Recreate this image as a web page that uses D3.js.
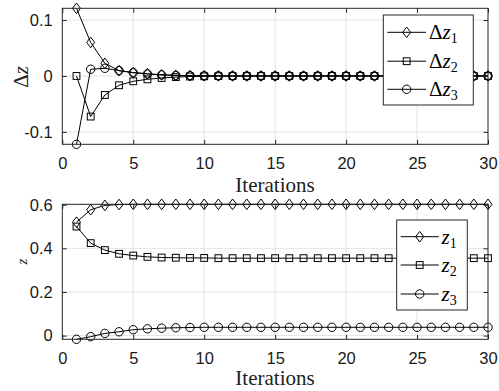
<!DOCTYPE html>
<html>
<head>
<meta charset="utf-8">
<script src="https://cdn.jsdelivr.net/npm/d3@7"></script>
<style>
  body { margin: 0; background: #fff; }
  svg { display: block; }
</style>
</head>
<body>
<div id="content"></div>
<script>
const iterations = d3.range(1, 31);

// top plot: change per iteration
const dz1 = [0.121, 0.060, 0.0227, 0.0095, 0.006, 0.004, 0.002, 0.001, 0.0005, 0.0003,
             0.0002, 0.0001, 0, 0, 0, 0, 0, 0, 0, 0, 0, 0, 0, 0, 0, 0, 0, 0, 0, 0];
const dz2 = [0, -0.0726, -0.034, -0.0166, -0.0095, -0.006, -0.0036, -0.002, -0.001, -0.0006,
             -0.0003, -0.0002, -0.0001, 0, 0, 0, 0, 0, 0, 0, 0, 0, 0, 0, 0, 0, 0, 0, 0, 0];
const dz3 = [-0.1222, 0.012, 0.0137, 0.0095, 0.006, 0.0036, 0.002, 0.001, 0.0005, 0.0003,
             0.0002, 0.0001, 0, 0, 0, 0, 0, 0, 0, 0, 0, 0, 0, 0, 0, 0, 0, 0, 0, 0];

// bottom plot: values
const z1 = [0.520, 0.577, 0.597, 0.601, 0.602, 0.602, 0.602, 0.602, 0.602, 0.602,
            0.602, 0.602, 0.602, 0.602, 0.602, 0.602, 0.602, 0.602, 0.602, 0.602,
            0.602, 0.602, 0.602, 0.602, 0.602, 0.602, 0.602, 0.602, 0.602, 0.602];
const z2 = [0.500, 0.424, 0.392, 0.375, 0.367, 0.361, 0.358, 0.357, 0.356, 0.356,
            0.355, 0.355, 0.355, 0.355, 0.355, 0.355, 0.355, 0.355, 0.355, 0.355,
            0.355, 0.355, 0.355, 0.355, 0.355, 0.355, 0.355, 0.355, 0.355, 0.355];
const z3 = [-0.017, -0.005, 0.010, 0.0175, 0.027, 0.031, 0.034, 0.036, 0.037, 0.038,
            0.038, 0.038, 0.038, 0.038, 0.038, 0.038, 0.038, 0.038, 0.038, 0.038,
            0.038, 0.038, 0.038, 0.038, 0.038, 0.038, 0.038, 0.038, 0.038, 0.038];

const x_ticks = [0, 5, 10, 15, 20, 25, 30];
const top_y_ticks = [-0.1, 0, 0.1];
const bottom_y_ticks = [0, 0.2, 0.4, 0.6];
const markers = ["diamond", "square", "circle"];
const subs = ["1", "2", "3"];

const axis_color = "#262626";
const grid_color = "#e3e3e3";
const tick_len = 4.5;

var svg = d3
    .select("#content")
    .append("svg")
    .attr("width", 499)
    .attr("height", 391);

function draw_marker(g, type, cx, cy) {
    if (type === "diamond") {
        g.append("path")
            .attr("d", `M${cx},${cy - 5.3}L${cx + 4},${cy}L${cx},${cy + 5.3}L${cx - 4},${cy}Z`);
    } else if (type === "square") {
        g.append("rect")
            .attr("x", cx - 3.4).attr("y", cy - 3.4)
            .attr("width", 6.8).attr("height", 6.8);
    } else {
        g.append("circle").attr("cx", cx).attr("cy", cy).attr("r", 4.2);
    }
}

function draw_panel(cfg) {
    const x = d3.scaleLinear().domain([0, 30]).range([62.3, 488]);
    const all = [].concat(...cfg.series);
    const y = d3.scaleLinear().domain(d3.extent(all)).range([cfg.bottom, cfg.top]);
    const g = svg.append("g");

    // grid
    g.append("g").selectAll("line").data(x_ticks.slice(1, -1)).join("line")
        .attr("x1", d => x(d)).attr("x2", d => x(d))
        .attr("y1", cfg.top).attr("y2", cfg.bottom)
        .attr("stroke", grid_color);
    g.append("g").selectAll("line").data(cfg.y_ticks).join("line")
        .attr("x1", x(0)).attr("x2", x(30))
        .attr("y1", d => y(d)).attr("y2", d => y(d))
        .attr("stroke", grid_color);

    // series
    const line = d3.line().x((d, i) => x(iterations[i])).y(d => y(d));
    cfg.series.forEach((s, k) => {
        g.append("path")
            .attr("d", line(s))
            .attr("fill", "none")
            .attr("stroke", "#000")
            .attr("stroke-width", 1);
        const mg = g.append("g").attr("fill", "none").attr("stroke", "#000").attr("stroke-width", 1);
        s.forEach((v, i) => draw_marker(mg, markers[k], x(iterations[i]), y(v)));
    });

    // axes
    const fmt = d => (d === 0 ? "0" : String(d));
    g.append("g").attr("transform", `translate(0,${cfg.bottom})`)
        .call(d3.axisBottom(x).tickValues(x_ticks).tickSizeInner(-tick_len).tickSizeOuter(0)
              .tickPadding(12.5).tickFormat(fmt));
    g.append("g").attr("transform", `translate(0,${cfg.top})`)
        .call(d3.axisTop(x).tickValues(x_ticks).tickSizeInner(-tick_len).tickSizeOuter(0).tickFormat(""));
    g.append("g").attr("transform", `translate(${x(0)},0)`)
        .call(d3.axisLeft(y).tickValues(cfg.y_ticks).tickSizeInner(-tick_len).tickSizeOuter(0)
              .tickPadding(9.5).tickFormat(fmt));
    g.append("g").attr("transform", `translate(${x(30)},0)`)
        .call(d3.axisRight(y).tickValues(cfg.y_ticks).tickSizeInner(-tick_len).tickSizeOuter(0).tickFormat(""));
    g.selectAll(".domain").remove();
    g.selectAll(".tick line").attr("stroke", axis_color);
    g.selectAll(".tick text")
        .attr("fill", "#1a1a1a")
        .style("font-family", "'Liberation Sans', Arial, sans-serif")
        .style("font-size", "16.5px");

    g.append("rect")
        .attr("x", x(0)).attr("y", cfg.top)
        .attr("width", x(30) - x(0)).attr("height", cfg.bottom - cfg.top)
        .attr("fill", "none").attr("stroke", axis_color).attr("stroke-width", 1);

    // x label
    g.append("text")
        .attr("x", 275).attr("y", cfg.xlabel_y)
        .attr("text-anchor", "middle")
        .style("font-family", "'Liberation Serif', serif")
        .style("font-size", "21px")
        .attr("fill", "#222")
        .text("Iterations");

    // y label
    const yl = g.append("text")
        .attr("transform", `translate(${cfg.ylabel_x},${cfg.ylabel_y}) rotate(-90)`)
        .attr("text-anchor", "middle")
        .style("font-family", "'Liberation Serif', serif")
        .style("font-size", cfg.ylabel_size + "px")
        .attr("fill", "#222");
    if (cfg.delta) yl.append("tspan").text("Δ");
    yl.append("tspan").style("font-style", "italic").text("z");

    // legend
    const lg = g.append("g");
    const L = cfg.legend;
    lg.append("rect")
        .attr("x", L.x).attr("y", L.y).attr("width", L.w).attr("height", L.h)
        .attr("fill", "#fff").attr("stroke", axis_color).attr("stroke-width", 1);
    L.rows.forEach((ry, k) => {
        lg.append("line")
            .attr("x1", L.x1).attr("x2", L.x2).attr("y1", ry).attr("y2", ry)
            .attr("stroke", "#000");
        const mg = lg.append("g").attr("fill", "none").attr("stroke", "#000");
        draw_marker(mg, markers[k], (L.x1 + L.x2) / 2, ry);
        const t = lg.append("text")
            .attr("x", L.tx).attr("y", ry + 7)
            .style("font-family", "'Liberation Serif', serif")
            .style("font-size", "21px")
            .attr("fill", "#000");
        if (cfg.delta) t.append("tspan").text("Δ");
        t.append("tspan").style("font-style", "italic").text("z");
        t.append("tspan").attr("dy", 4).style("font-size", "14px").text(subs[k]);
    });
}

draw_panel({
    series: [dz1, dz2, dz3],
    top: 8.3, bottom: 144.3,
    y_ticks: top_y_ticks,
    xlabel_y: 192.3,
    ylabel_x: 28, ylabel_y: 77, ylabel_size: 21,
    delta: true,
    legend: { x: 383.3, y: 15, w: 90, h: 90, rows: [32.3, 61.2, 89.3],
              x1: 387.3, x2: 426, tx: 429 }
});

draw_panel({
    series: [z1, z2, z3],
    top: 204.3, bottom: 339.3,
    y_ticks: bottom_y_ticks,
    xlabel_y: 385,
    ylabel_x: 26.7, ylabel_y: 261.7, ylabel_size: 15,
    delta: false,
    legend: { x: 396.7, y: 220, w: 70.6, h: 90, rows: [236.7, 265, 294],
              x1: 400.7, x2: 438.7, tx: 441.5 }
});
</script>
</body>
</html>
